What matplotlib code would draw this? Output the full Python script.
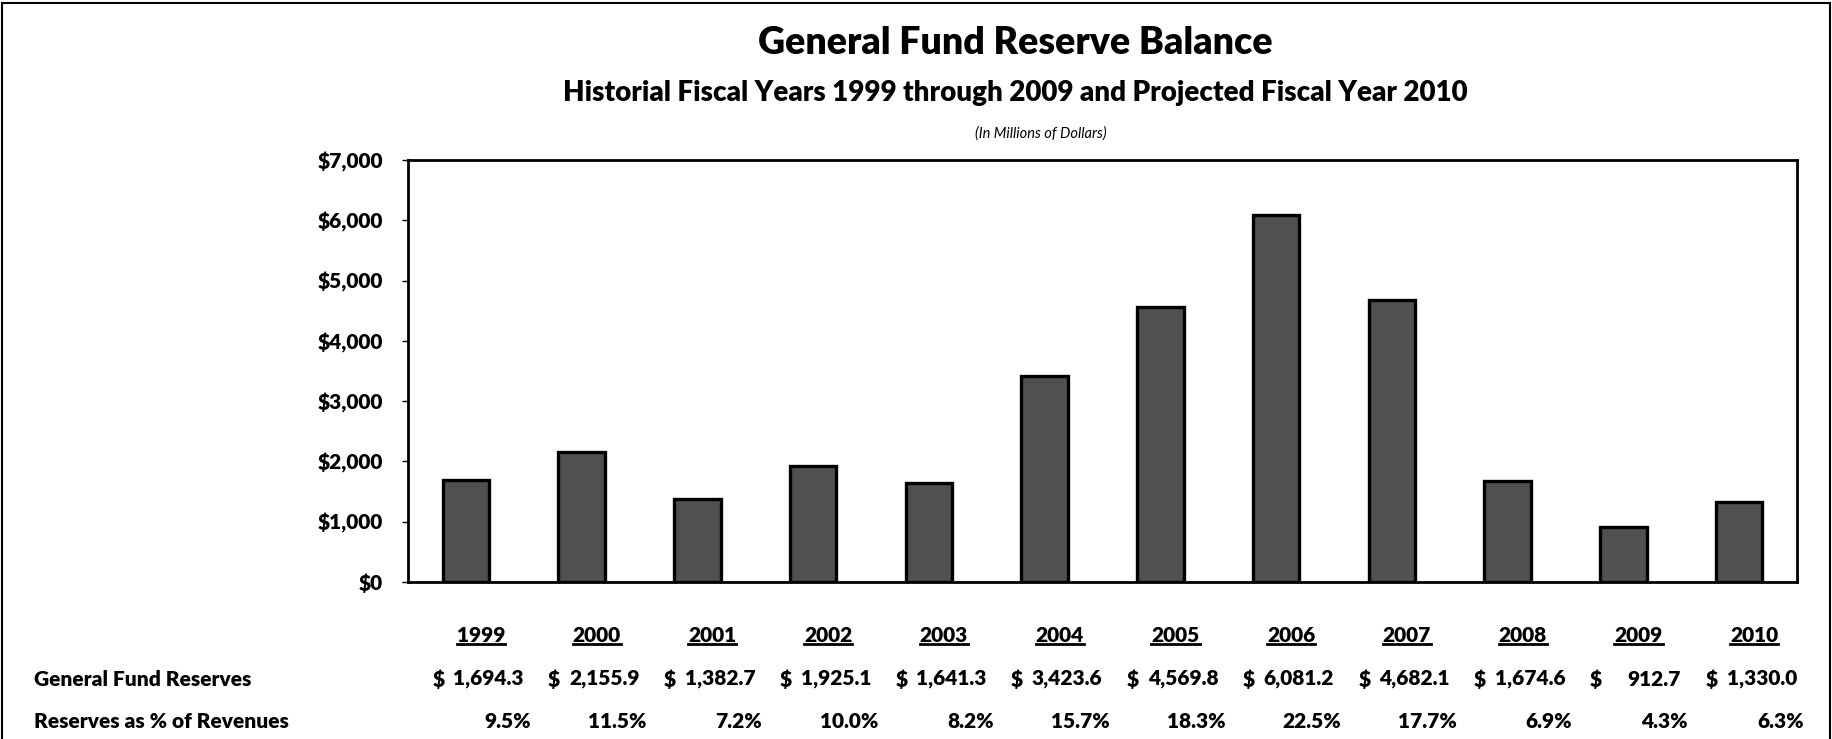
import numpy as np
import matplotlib
matplotlib.use("Agg")
import matplotlib.pyplot as plt
import matplotlib.transforms as mtransforms
from matplotlib.patches import Rectangle
from matplotlib.lines import Line2D

years = ["1999", "2000", "2001", "2002", "2003", "2004",
         "2005", "2006", "2007", "2008", "2009", "2010"]
reserves = [1694.3, 2155.9, 1382.7, 1925.1, 1641.3, 3423.6,
            4569.8, 6081.2, 4682.1, 1674.6, 912.7, 1330.0]
pct_revenues = [9.5, 11.5, 7.2, 10.0, 8.2, 15.7, 18.3, 22.5, 17.7, 6.9, 4.3, 6.3]
y_ticks = [0, 1000, 2000, 3000, 4000, 5000, 6000, 7000]
row_labels = ["General Fund Reserves", "Reserves as % of Revenues"]

plt.rcParams['font.family'] = ['Lato', 'DejaVu Sans']
BOLD = 'heavy'

W, H = 1832, 739
fig = plt.figure(figsize=(W / 100, H / 100), dpi=100)
fig.patch.set_facecolor('w')

ax = fig.add_axes([408 / W, 1 - 582 / H, 1389 / W, 422 / H])
x = np.arange(len(years))
ax.bar(x, reserves, width=0.40, color='#505050', edgecolor='black', linewidth=2.4)
ax.set_xlim(-0.5, len(years) - 0.5)
ax.set_ylim(0, 7000)
ax.set_yticks(y_ticks)
ax.set_yticklabels([f"${v:,.0f}" for v in y_ticks], fontsize=15, fontweight=BOLD)
ax.tick_params(axis='y', direction='out', length=4, width=1, pad=14)
ax.set_xticks([])
for s in ax.spines.values():
    s.set_linewidth(2)

# titles
cx = 1015 / W
fig.text(cx, 1 - 43 / H, "General Fund Reserve Balance", ha='center', va='center',
         fontsize=27, fontweight=BOLD)
fig.text(cx, 1 - 93 / H, "Historial Fiscal Years 1999 through 2009 and Projected Fiscal Year 2010",
         ha='center', va='center', fontsize=20, fontweight=BOLD)
fig.text(1041 / W, 1 - 134 / H, "(In Millions of Dollars)", ha='center', va='center',
         fontsize=10.5, style='italic')

# data table under the chart
trans = mtransforms.blended_transform_factory(ax.transData, fig.transFigure)
y_year, y_res, y_pct = 1 - 636 / H, 1 - 679 / H, 1 - 721 / H
tkw = dict(transform=trans, va='center', fontsize=15, fontweight=BOLD)
year_texts = []
for i, (yr, v, p) in enumerate(zip(years, reserves, pct_revenues)):
    year_texts.append(ax.text(i + 0.13, y_year, yr, ha='center', **tkw))
    ax.text(i - 0.29, y_res, "$", ha='left', **tkw)
    ax.text(i + 0.50, y_res, f"{v:,.1f}", ha='right', **tkw)
    ax.text(i + 0.56, y_pct, f"{p:.1f}%", ha='right', **tkw)

fig.text(34 / W, y_res, row_labels[0], ha='left', va='center', fontsize=15, fontweight=BOLD)
fig.text(34 / W, y_pct, row_labels[1], ha='left', va='center', fontsize=15, fontweight=BOLD)

# underline the year headers
fig.canvas.draw()
renderer = fig.canvas.get_renderer()
for t in year_texts:
    bb = t.get_window_extent(renderer)
    y0 = (bb.y0 + 2) / H
    fig.add_artist(Line2D([bb.x0 / W, bb.x1 / W], [y0, y0], transform=fig.transFigure,
                          color='black', lw=2))

# outer frame
fig.add_artist(Rectangle((2 / W, -0.01), 1828 / W, 1.01 - 3 / H, transform=fig.transFigure,
                         fill=False, edgecolor='black', lw=1.5))

fig.savefig("out.png", dpi=100)
